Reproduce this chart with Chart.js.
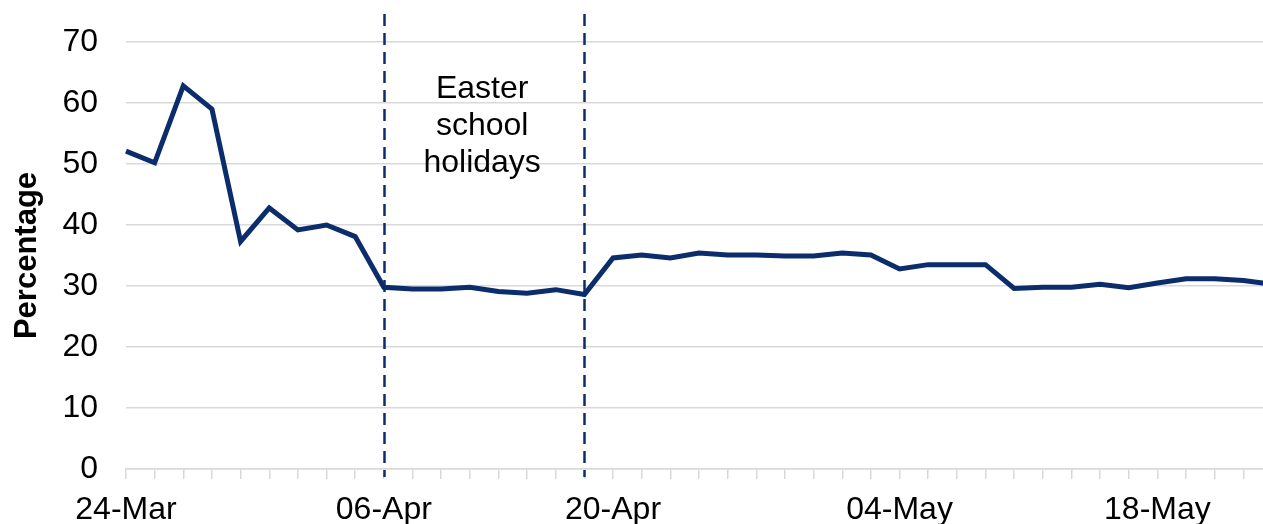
<!DOCTYPE html>
<html>
<head>
<meta charset="utf-8">
<script src="https://cdn.jsdelivr.net/npm/chart.js@4"></script>
<style>
  html, body { margin: 0; padding: 0; background: #fff; }
  .wrap { width: 1263px; height: 524px; overflow: hidden; }
</style>
</head>
<body>
<div class="wrap">
  <canvas id="easterChart" width="1290" height="524"></canvas>
</div>
<script>
// weekdays, bank holidays left out
const dates = [
  "24-Mar", "25-Mar", "26-Mar", "27-Mar", "30-Mar", "31-Mar", "01-Apr", "02-Apr", "03-Apr",
  "06-Apr", "07-Apr", "08-Apr", "09-Apr", "14-Apr", "15-Apr", "16-Apr", "17-Apr",
  "20-Apr", "21-Apr", "22-Apr", "23-Apr", "24-Apr", "27-Apr", "28-Apr", "29-Apr", "30-Apr", "01-May",
  "04-May", "05-May", "06-May", "07-May", "11-May", "12-May", "13-May", "14-May", "15-May",
  "18-May", "19-May", "20-May", "21-May", "22-May",
];
const percentage = [
  52.1, 50.2, 62.8, 59.0, 37.3, 42.8, 39.2, 40.0, 38.1,
  29.8, 29.5, 29.5, 29.8, 29.1, 28.8, 29.4, 28.6,
  34.6, 35.1, 34.6, 35.4, 35.1, 35.1, 34.9, 34.9, 35.4, 35.1,
  32.8, 33.5, 33.5, 33.5, 29.6, 29.8, 29.8, 30.3, 29.7,
  30.5, 31.2, 31.2, 30.9, 30.3,
];
const shownDates = ["24-Mar", "06-Apr", "20-Apr", "04-May", "18-May"];
const yTicks = [0, 10, 20, 30, 40, 50, 60, 70];
const holidayLines = ["06-Apr", "17-Apr"];
const holidayLineTop = 74.6;
const holidayText = ["Easter", "school", "holidays"];
const holidayTextY = 62.3;

const navy = "#0b2d6c";
const grey = "#d9d9d9";
const fontFamily = "'Liberation Sans', Arial, sans-serif";

let holidayPlugin = {
  id: "holidays",
  beforeDatasetsDraw(chart) {
    const ctx = chart.ctx;
    const x = chart.scales.x;
    const y = chart.scales.y;
    const bottom = chart.chartArea.bottom + 8;
    ctx.save();
    ctx.strokeStyle = navy;
    ctx.lineWidth = 2.5;
    ctx.setLineDash([12, 7]);
    holidayLines.forEach((d) => {
      const px = Math.round(x.getPixelForValue(dates.indexOf(d))) + 0.5;
      ctx.beginPath();
      ctx.moveTo(px, y.getPixelForValue(holidayLineTop));
      ctx.lineTo(px, bottom);
      ctx.stroke();
    });
    // label between the two lines
    const mid =
      (x.getPixelForValue(dates.indexOf(holidayLines[0])) +
        x.getPixelForValue(dates.indexOf(holidayLines[1]))) / 2;
    ctx.setLineDash([]);
    ctx.fillStyle = "#000";
    ctx.font = "32px " + fontFamily;
    ctx.textAlign = "center";
    ctx.textBaseline = "middle";
    const y0 = y.getPixelForValue(holidayTextY);
    holidayText.forEach((t, i) => {
      ctx.fillText(t, mid - 2, y0 + i * 37);
    });
    ctx.restore();
  },
};

new Chart("easterChart", {
  type: "line",
  data: {
    labels: dates,
    datasets: [
      {
        label: "Percentage",
        data: percentage,
        borderColor: navy,
        borderWidth: 5,
        pointRadius: 0,
        fill: false,
        tension: 0,
      },
    ],
  },
  options: {
    responsive: false,
    animation: false,
    layout: { padding: { top: 42, right: 18, bottom: 0, left: 0 } },
    plugins: {
      legend: { display: false },
      tooltip: { enabled: false },
    },
    scales: {
      x: {
        afterFit: (scale) => {
          scale.height = 55;
        },
        grid: {
          drawOnChartArea: false,
          drawTicks: true,
          tickLength: 10,
          tickColor: grey,
          lineWidth: 1.5,
        },
        border: { color: grey, width: 1.5 },
        ticks: {
          autoSkip: false,
          maxRotation: 0,
          padding: 12,
          color: "#000",
          font: { family: fontFamily, size: 32 },
          callback: function (val, i) {
            let d = dates[i];
            return shownDates.includes(d) ? d : "";
          },
        },
      },
      y: {
        min: yTicks[0],
        max: yTicks[yTicks.length - 1],
        afterFit: (scale) => {
          scale.width = 126;
        },
        afterBuildTicks: (scale) => {
          scale.ticks = yTicks.map((v) => ({ value: v }));
        },
        grid: {
          color: grey,
          lineWidth: 1.5,
          drawTicks: true,
          tickLength: 24,
          tickColor: "rgba(0,0,0,0)",
        },
        border: { display: false },
        ticks: {
          padding: 4,
          color: "#000",
          font: { family: fontFamily, size: 32 },
        },
        title: {
          display: true,
          text: "Percentage",
          color: "#000",
          padding: { top: 9, bottom: 0 },
          font: { family: fontFamily, size: 31, weight: "bold" },
        },
      },
    },
  },
  plugins: [holidayPlugin],
});
</script>
</body>
</html>
